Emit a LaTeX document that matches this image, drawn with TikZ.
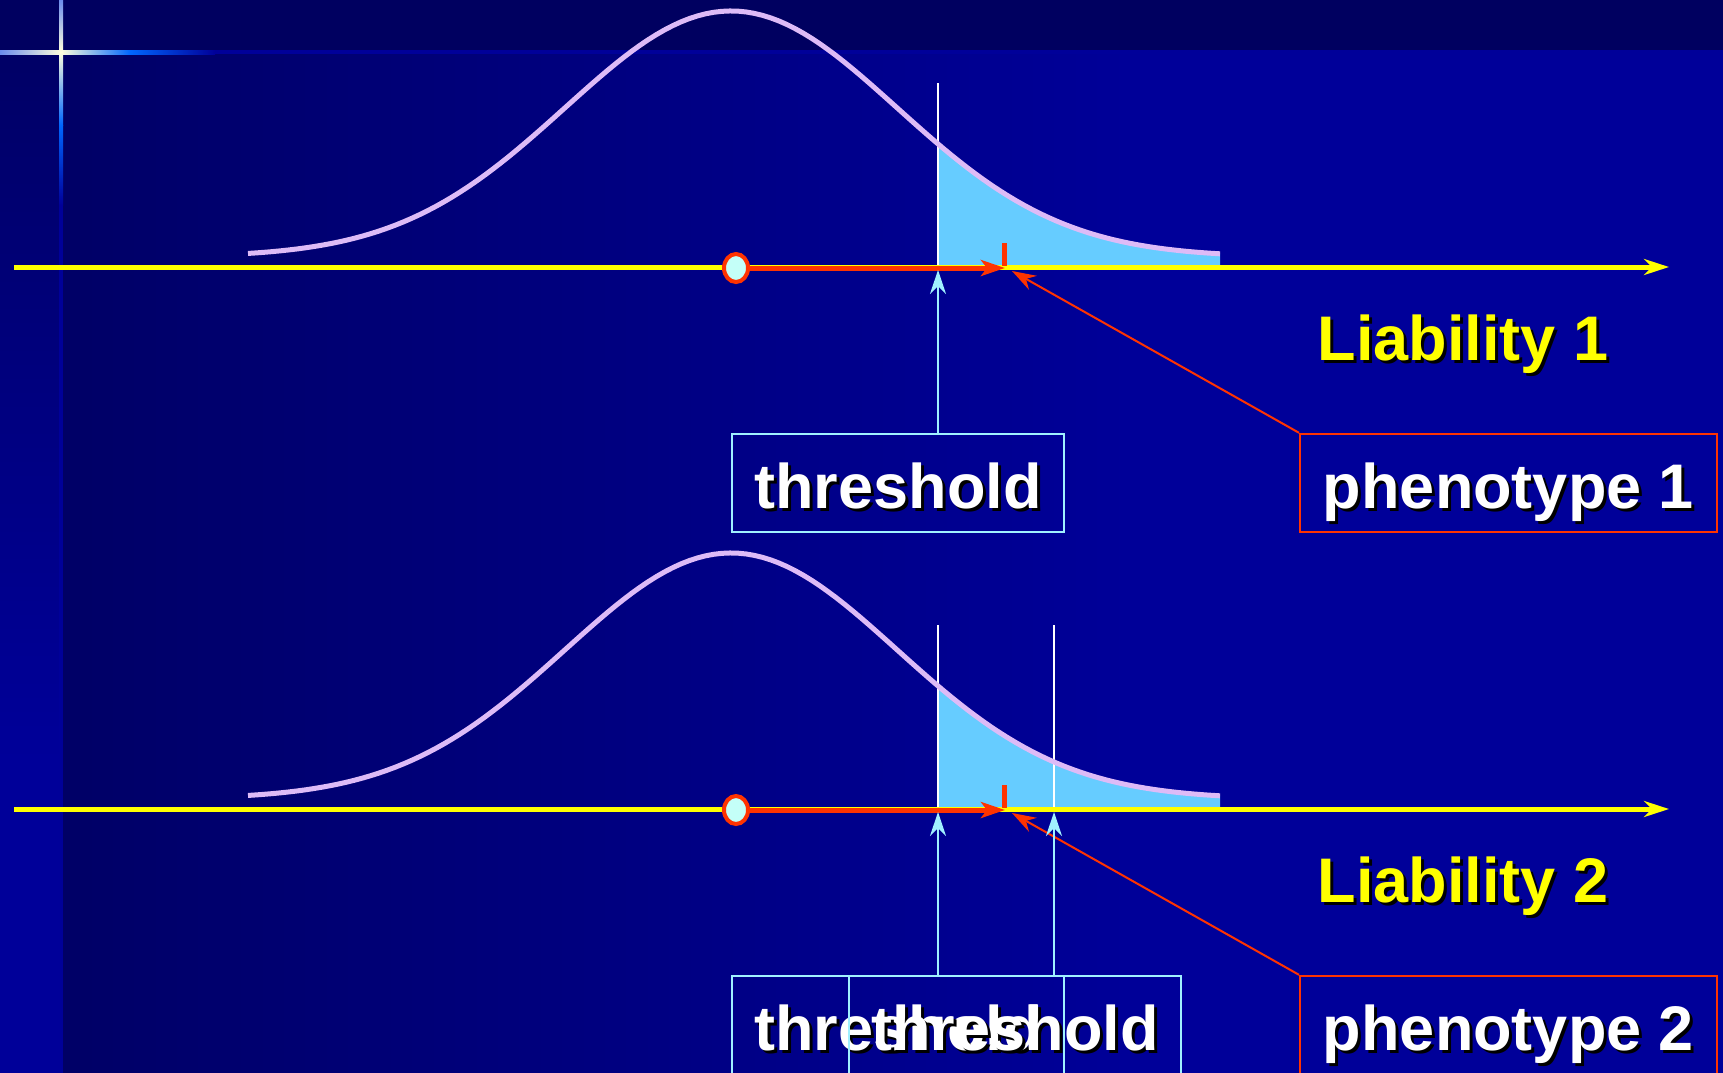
\documentclass[tikz,border=0pt]{standalone}
\usepackage{fontspec}
\setmainfont{Liberation Sans}
\usetikzlibrary{arrows.meta,positioning,calc,shapes.geometric}
\definecolor{SlideNavy}{HTML}{000066}
\definecolor{SlideBlue}{HTML}{000099}
\definecolor{SlideTop}{HTML}{000060}
\definecolor{GlowBlue}{HTML}{0066FF}
\definecolor{GlowPale}{HTML}{FFFFDD}
\definecolor{GlowEdge}{HTML}{6688EE}
\definecolor{AxisYellow}{HTML}{FFFF00}
\definecolor{BellLilac}{HTML}{DDBBF7}
\definecolor{TailBlue}{HTML}{66CCFF}
\definecolor{LiabRed}{HTML}{FF3300}
\definecolor{MeanFill}{HTML}{C4FFF8}
\definecolor{ThreshCyan}{HTML}{A0F0FF}
\newcommand{\shadowed}[1]{\rlap{\kern1.5pt\raisebox{-1.5pt}{\color{black}#1}}#1}
\newcommand{\bellat}[1]{257-246*exp(-0.5*((#1-731)/166)*((#1-731)/166))}

\begin{document}
\begin{tikzpicture}[x=0.5pt,y=-0.5pt,
  liabaxis/.style={AxisYellow,line width=2.5pt,-{Stealth[length=12.5pt,width=8pt,inset=4pt]}},
  bell/.style={BellLilac,line width=2.5pt},
  cutline/.style={white,line width=1pt},
  meanpt/.style={ellipse,draw=LiabRed,fill=MeanFill,line width=2pt,minimum width=12pt,minimum height=14pt,inner sep=0pt},
  meanarrow/.style={LiabRed,line width=2.5pt,-{Stealth[length=12pt,width=8pt,inset=3pt]}},
  liabtick/.style={LiabRed,line width=2.5pt},
  slidetext/.style={font=\fontsize{31.5}{36}\selectfont\bfseries,text height=25pt,text depth=0pt,inner sep=0pt},
  liab/.style={slidetext,text=AxisYellow},
  boxed/.style={slidetext,text=white,line width=1.2pt,minimum height=49pt},
  thrbox/.style={boxed,draw=ThreshCyan,minimum width=166pt},
  phenbox/.style={boxed,draw=LiabRed,minimum width=208.3pt},
  thrarrow/.style={ThreshCyan,line width=1.3pt,-{Stealth[length=12pt,width=8pt,inset=4pt]}},
  phenarrow/.style={LiabRed,line width=1pt,-{Stealth[length=12pt,width=8pt,inset=4pt]}}]
  \useasboundingbox (0,0) rectangle (1723,1072);
  \fill[SlideTop] (-10,-10) rectangle (1735,1085);
  \shade[left color=SlideNavy,right color=SlideBlue] (59,52) rectangle (1150,1085);
  \fill[SlideBlue] (1150,52) rectangle (1735,1085);
  \shade[top color=SlideNavy,bottom color=SlideBlue] (-10,52) rectangle (59,760);
  \fill[SlideBlue] (-10,760) rectangle (59,1085);
  \shade[left color=GlowEdge,right color=GlowPale] (-2,50) rectangle (61,54);
  \shade[left color=GlowPale,right color=GlowBlue] (61,50) rectangle (130,54);
  \shade[left color=GlowBlue,right color=SlideBlue] (130,50) rectangle (215,54);
  \fill[SlideBlue] (215,50) rectangle (1735,54);
  \shade[top color=GlowEdge,bottom color=GlowPale] (59,-2) rectangle (63,52);
  \shade[top color=GlowPale,bottom color=GlowBlue] (59,52) rectangle (63,125);
  \shade[top color=GlowBlue,bottom color=SlideBlue] (59,125) rectangle (63,205);
  \fill[SlideBlue] (59,205) rectangle (63,1085);

  \foreach \p/\dy in {1/0,2/542}{
    \begin{scope}[shift={(0,\dy)}]
      \fill[TailBlue] (938,265) -- plot[domain=938:1220,samples=40] (\x,{\bellat{\x}}) -- (1220,265) -- cycle;
      \draw[cutline] (938,83) -- (938,267);
      \ifnum\p=2 \draw[cutline] (1054,83) -- (1054,267); \fi
      \draw[bell] plot[domain=248:1220,samples=120] (\x,{\bellat{\x}});
      \draw[liabaxis] (14,267) -- (1669,267);
      \coordinate (l\p) at (1005,268);
      \coordinate (c\p) at (1012,271);
      \coordinate (t\p) at (938,270);
      \draw[liabtick] (1004,243) -- (1004,266);
      \node[meanpt] (m\p) at (736,268) {};
      \draw[meanarrow] (m\p) -- (l\p);
      \node[liab] (L\p) at (1463,335) {\shadowed{Liability \p}};
      \node[thrbox] (thr\p) at (898,483) {\shadowed{threshold}};
      \node[phenbox] (ph\p) at (1508.5,483) {\shadowed{phenotype \p}};
      \draw[thrarrow] (thr\p.north -| t\p) -- (t\p);
      \draw[phenarrow] (ph\p.north west) -- (c\p);
    \end{scope}
  }
  \coordinate (t3) at (1054,812);
  \node[thrbox] (thr3) at (1015,1025) {\shadowed{threshold}};
  \draw[thrarrow] (thr3.north -| t3) -- (t3);
\end{tikzpicture}
\end{document}
